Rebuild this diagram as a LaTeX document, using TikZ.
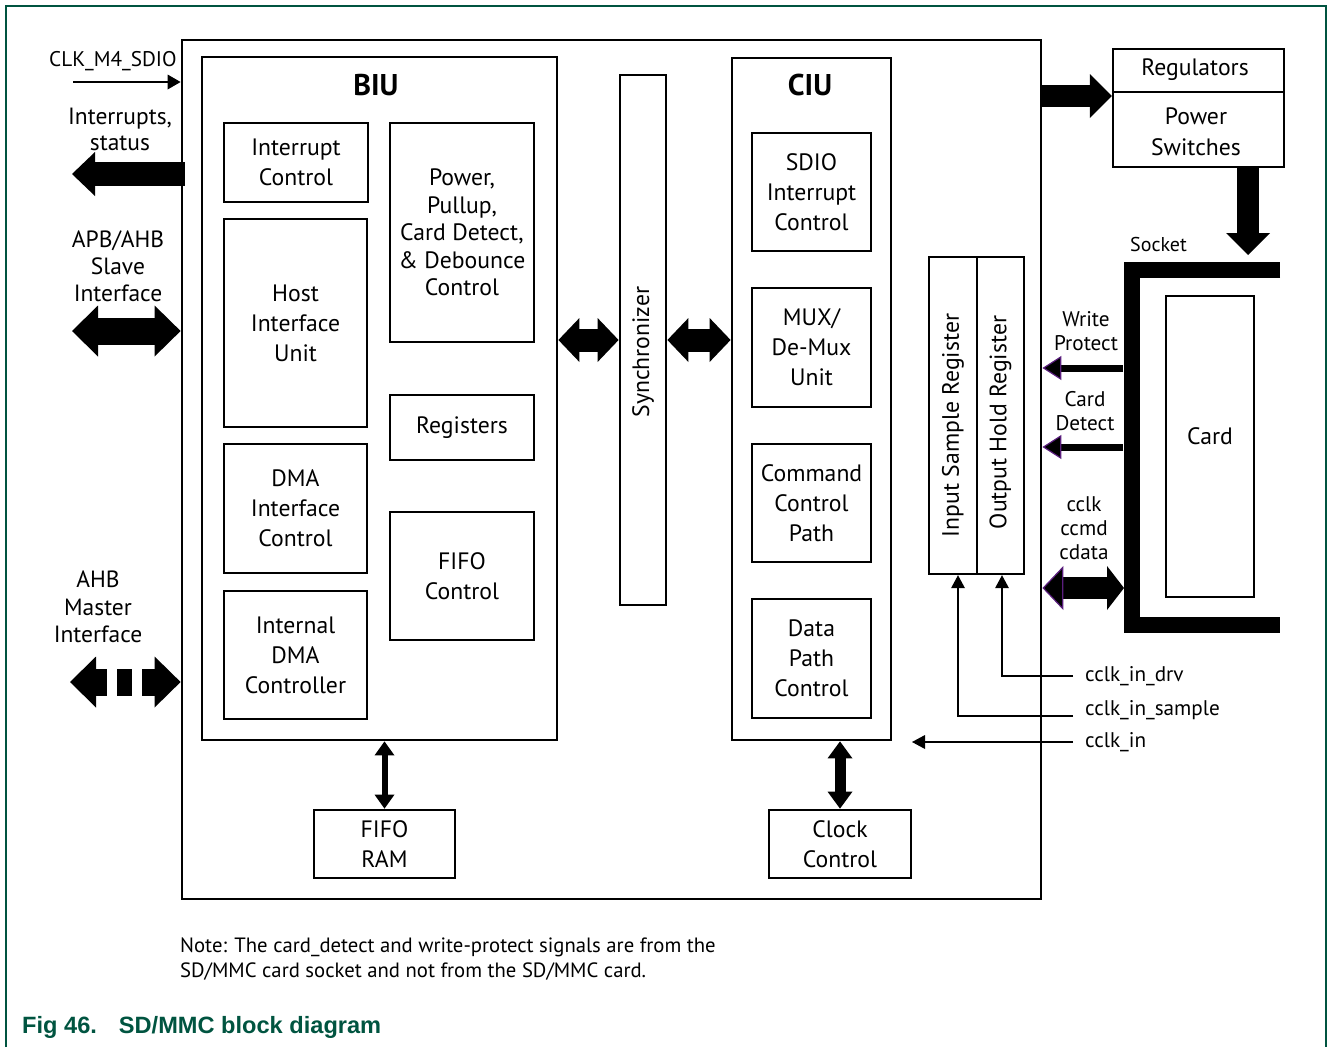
\documentclass[tikz,border=0pt]{standalone}
\usepackage{fontspec}
\setmainfont{PT Sans}
\newfontfamily\capfont{Liberation Sans}
\usetikzlibrary{arrows.meta,positioning,calc}
\definecolor{nxpgreen}{RGB}{0,84,64}
\definecolor{tipviolet}{RGB}{90,30,125}
\newcommand\boxfont{\fontsize{23.7}{30}\selectfont}
\newcommand\lblfont{\fontsize{23.5}{26}\selectfont}
\newcommand\sigfont{\fontsize{21.2}{24}\selectfont}
\newcommand\titlefont{\fontsize{30}{30}\selectfont\bfseries}

\tikzset{
  blk/.style={draw, line width=2.8pt, align=center, inner sep=0pt, font=\boxfont},
  lbl/.style={align=center, inner sep=0pt, font=\lblfont},
  sig/.style={align=left, anchor=west, inner sep=0pt, font=\sigfont},
  wire/.style={line width=2pt},
  outarrow/.style={line width=24pt, -{Triangle[width=44pt,length=23pt,line width=0pt]}},
  busarrow/.style={line width=27pt, {Triangle[width=51pt,length=26pt,line width=0pt]}-{Triangle[width=51pt,length=26pt,line width=0pt]}},
  syncarrow/.style={line width=23pt, {Triangle[width=44pt,length=21pt,line width=0pt]}-{Triangle[width=44pt,length=21pt,line width=0pt]}},
  pwrarrow/.style={line width=22pt, -{Triangle[width=44pt,length=22pt,line width=0pt]}},
  sigarrow/.style={line width=7pt, -{Triangle[width=24pt,length=19pt,line width=1.2pt,color=tipviolet,fill=black]}},
  cardbus/.style={line width=22pt, {Triangle[width=44pt,length=21pt,line width=1.2pt,color=tipviolet,fill=black]}-{Triangle[width=44pt,length=17pt,line width=0pt]}},
  ramarrow/.style={line width=6pt, {Triangle[width=20pt,length=14pt,line width=0pt]}-{Triangle[width=20pt,length=14pt,line width=0pt]}},
  clkarrow/.style={line width=11pt, {Triangle[width=25pt,length=17pt,line width=0pt]}-{Triangle[width=25pt,length=17pt,line width=0pt]}},
  pinarrow/.style={wire, -{Triangle[width=14pt,length=13pt,line width=0pt]}},
}

\begin{document}
\begin{tikzpicture}[x=1pt, y=-1pt]
\useasboundingbox (0,0) rectangle (1328,1047);
\draw[nxpgreen, line width=2pt] (6,1047) -- (6,6) -- (1326,6) -- (1326,1047);

\node[blk, minimum width=859pt, minimum height=859pt] (main) at (611.5,469.5) {};

% BIU
\node[blk, minimum width=355pt, minimum height=683pt] (biu) at (379.5,398.5) {};
\node[font=\titlefont, inner sep=0pt] (biut) at (376,85) {BIU};
\node[blk, minimum width=144pt, minimum height=79pt] (intctl) at (296,162.5) {Interrupt\\Control};
\node[blk, minimum width=143pt, minimum height=208pt] (hiu) at (295.5,323) {Host\\Interface\\Unit};
\node[blk, minimum width=143pt, minimum height=129pt] (dmaif) at (295.5,508.5) {DMA\\Interface\\Control};
\node[blk, minimum width=143pt, minimum height=128pt] (idma) at (295.5,655) {Internal\\DMA\\Controller};
\node[blk, minimum width=144pt, minimum height=219pt, font=\fontsize{23.7}{27.5}\selectfont] (pwr) at (462,232.5) {Power,\\Pullup,\\Card Detect,\\\& Debounce\\Control};
\node[blk, minimum width=144pt, minimum height=65pt] (regs) at (462,427.5) {Registers};
\node[blk, minimum width=144pt, minimum height=128pt] (fifoctl) at (462,576) {FIFO\\Control};

\node[blk, minimum width=46pt, minimum height=530pt,
  label={[yshift=-12pt, rotate=90, font=\boxfont]center:Synchronizer}] (sync) at (643,340) {};

% CIU
\node[blk, minimum width=159pt, minimum height=682pt] (ciu) at (811.5,399) {};
\node[font=\titlefont, inner sep=0pt] (ciut) at (810,85) {CIU};
\node[blk, minimum width=119pt, minimum height=118pt] (sdio) at (811.5,192) {SDIO\\Interrupt\\Control};
\node[blk, minimum width=119pt, minimum height=119pt] (mux) at (811.5,347.5) {MUX/\\De-Mux\\Unit};
\node[blk, minimum width=119pt, minimum height=118pt] (cmd) at (811.5,503) {Command\\Control\\Path};
\node[blk, minimum width=119pt, minimum height=119pt] (dpath) at (811.5,658.5) {Data\\Path\\Control};

\node[blk, line width=2.4pt, minimum width=48pt, minimum height=317pt,
  label={[yshift=-10pt, rotate=90, font=\boxfont]center:Input Sample Register}] (isr) at (953,415.5) {};
\node[blk, line width=2.4pt, minimum width=47pt, minimum height=317pt,
  label={[yshift=-7pt, rotate=90, font=\boxfont]center:Output Hold Register}] (osr) at (1000.5,415.5) {};

\node[blk, minimum width=141pt, minimum height=68pt] (fiforam) at (384.5,844) {FIFO\\RAM};
\node[blk, minimum width=142pt, minimum height=68pt] (clkctl) at (840,844) {Clock\\Control};

% regulators, socket and card
\node[blk, line width=2.4pt, minimum width=171pt, minimum height=118pt] (vreg) at (1198.5,108) {};
\draw[line width=1.3pt] ([yshift=16pt]vreg.west) -- ([yshift=16pt]vreg.east);
\node[font=\boxfont, inner sep=0pt] (reg) at (1195,70) {Regulators};
\node[font=\fontsize{23.7}{31}\selectfont, align=center, inner sep=0pt] (psw) at (1196,132) {Power\\Switches};
\node[blk, line width=2.4pt, minimum width=88pt, minimum height=301pt,
  label={[yshift=10pt, font=\boxfont]center:Card}] (card) at (1210,446.5) {};

% left side
\coordinate (clkin) at (73,82);
\coordinate (intout) at (72,174);
\coordinate (apbout) at (72,331);
\coordinate (ahbout) at (70,682);
\node[sig] (clklbl) at (49,61) {CLK\_M4\_SDIO};
\node[lbl] (intlbl) at (120,129) {Interrupts,\\status};
\node[lbl, font=\fontsize{23.5}{27}\selectfont] (apblbl) at (118,266) {APB/AHB\\Slave\\Interface};
\node[lbl, font=\fontsize{23.5}{27.5}\selectfont] (ahblbl) at (98,607) {AHB\\Master\\Interface};
\draw[wire, -{Triangle[width=15pt,length=13pt,line width=0pt]}] (clkin) -- (main.west |- clkin);
\draw[outarrow] ([xshift=4pt]main.west |- intout) -- (intout);
\draw[busarrow] (apbout) -- (main.west |- apbout);
\draw[busarrow, dash pattern=on 11pt off 10pt on 15pt off 10pt on 40pt] (ahbout) -- (main.west |- ahbout);

\draw[syncarrow] (biu.east |- sync) -- (sync.west);
\draw[syncarrow] (sync.east) -- (ciu.west |- sync);
\draw[ramarrow] (fiforam.north |- biu.south) -- (fiforam.north);
\draw[clkarrow] (clkctl.north |- ciu.south) -- (clkctl.north);

% right side
\coordinate (pwrdn) at (1248,255);
\coordinate (wp) at (1123,368);
\coordinate (cd) at (1123,447);
\coordinate (cc) at (1124,588);
\coordinate (cinend) at (912,742);
\draw[pwrarrow] ([yshift=12pt]main.east |- vreg.west) -- ([yshift=12pt]vreg.west);
\draw[pwrarrow] (vreg.south -| pwrdn) -- (pwrdn);
\draw[sigarrow] (wp) -- (main.east |- wp);
\draw[sigarrow] (cd) -- (main.east |- cd);
\draw[cardbus] (main.east |- cc) -- (cc);
\draw[line width=16pt] (1280,269.5) -- (1131.5,269.5) -- (1131.5,625) -- (1280,625);
\node[sig, font=\fontsize{20}{24}\selectfont] (sktlbl) at (1130,244) {Socket};
\node[lbl, font=\sigfont] (wplbl) at (1086,331) {Write\\Protect};
\node[lbl, font=\sigfont] (cdlbl) at (1085,411) {Card\\Detect};
\node[lbl, font=\sigfont] (cclbl) at (1084,528) {cclk\\ccmd\\cdata};

\node[sig] (drv) at (1085,676) {cclk\_in\_drv};
\node[sig] (smp) at (1085,710) {cclk\_in\_sample};
\node[sig] (cin) at (1085,742) {cclk\_in};
\draw[pinarrow] ([xshift=-12pt]drv.west) -| ([xshift=1.5pt]osr.south);
\draw[pinarrow] ([xshift=-12pt]smp.west |- 0,716) -| ([xshift=5pt]isr.south);
\draw[pinarrow] ([xshift=-12pt]cin.west) -- (cinend);

% note and caption
\node[sig, font=\fontsize{20.7}{25}\selectfont] (note) at (180,959.5) {Note: The card\_detect and write-protect signals are from the\\SD/MMC card socket and not from the SD/MMC card.};
\node[anchor=west, inner sep=0pt, text=nxpgreen, font=\capfont\bfseries\fontsize{23.6}{23.6}\selectfont] (cap) at (22,1027) {Fig 46.\hspace{22pt}SD/MMC block diagram};
\end{tikzpicture}
\end{document}
